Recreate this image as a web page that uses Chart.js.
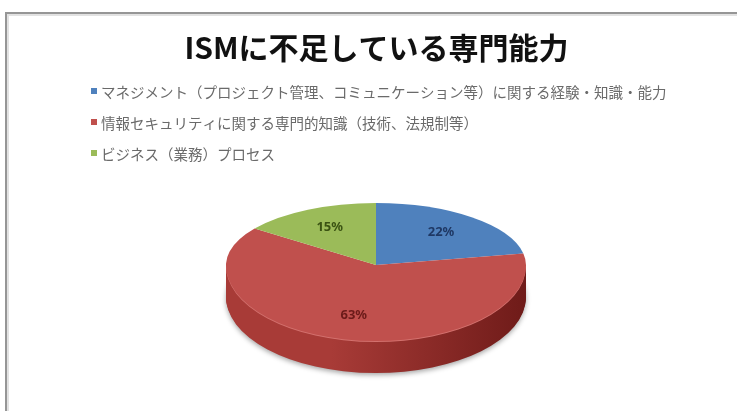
<!DOCTYPE html>
<html>
<head>
<meta charset="utf-8">
<script src="https://cdn.jsdelivr.net/npm/chart.js@4"></script>
<style>
  html, body { margin: 0; padding: 0; background: #fff; }
  #ism { display: block; }
</style>
</head>
<body>
<canvas id="ism" width="737" height="411"></canvas>
<script>
const titleText = 'ISMに不足している専門能力';
const categories = [
  'マネジメント（プロジェクト管理、コミュニケーション等）に関する経験・知識・能力',
  '情報セキュリティに関する専門的知識（技術、法規制等）',
  'ビジネス（業務）プロセス'
];
const shares = [22, 63, 15];
const sliceColors = ['#4F81BD', '#C0504D', '#9BBB59'];
const rimColors = ['#7CA0CE', '#D3716E', '#B5CE83'];
const sideLight = ['#3F6BA0', '#A83B37', '#7F9B45'];
const sideDark = ['#2A4A72', '#6F1B19', '#556A2C'];
const valueColors = ['#1F3864', '#6B1B19', '#3B5313'];

// white card with the grey frame along the top and left
const framePlugin = {
  id: 'frame',
  beforeDraw(chart) {
    const ctx = chart.ctx;
    ctx.save();
    ctx.fillStyle = '#fff';
    ctx.fillRect(0, 0, chart.width, chart.height);
    ctx.strokeStyle = '#e2e2e2';
    ctx.lineWidth = 2;
    ctx.beginPath();
    ctx.moveTo(8, chart.height);
    ctx.lineTo(8, 15);
    ctx.lineTo(chart.width, 15);
    ctx.stroke();
    ctx.strokeStyle = '#969696';
    ctx.lineWidth = 2;
    ctx.beginPath();
    ctx.moveTo(6, chart.height);
    ctx.lineTo(6, 13);
    ctx.lineTo(chart.width, 13);
    ctx.stroke();
    ctx.restore();
  }
};

// one legend entry per row, left aligned
const rowLegend = {
  id: 'rowLegend',
  afterDraw(chart, args, opts) {
    const ctx = chart.ctx;
    ctx.save();
    ctx.font = opts.font;
    ctx.textBaseline = 'middle';
    chart.data.labels.forEach((label, i) => {
      const y = opts.top + i * opts.rowGap;
      ctx.fillStyle = chart.data.datasets[0].backgroundColor[i];
      ctx.fillRect(opts.left, y - 3, 6, 6);
      ctx.fillStyle = opts.color;
      ctx.fillText(label, opts.left + 10, y + 1);
    });
    ctx.restore();
  }
};

// draws the pie as a tilted disc with a front wall
const tiltedPie = {
  id: 'tiltedPie',
  beforeDatasetsDraw(chart, args, o) {
    const ctx = chart.ctx;
    const arcs = chart.getDatasetMeta(0).data;
    const ox = arcs[0].x, oy = arcs[0].y, r = arcs[0].outerRadius;

    const place = (dy, ry) => {
      ctx.translate(o.cx, o.cy + dy);
      ctx.scale(o.rx / r, ry / r);
      ctx.translate(-ox, -oy);
    };
    const paint = (arc, fill) => {
      const saved = arc.options;
      arc.options = Object.assign({}, saved, { backgroundColor: fill, borderWidth: 0 });
      arc.draw(ctx);
      arc.options = saved;
    };
    const clipHalf = (front) => {
      ctx.beginPath();
      if (front) ctx.rect(0, o.cy, chart.width, chart.height);
      else ctx.rect(0, 0, chart.width, o.cy);
      ctx.clip();
    };

    // wall
    for (let d = o.depth; d >= 1; d--) {
      ctx.save();
      clipHalf(true);
      place(d, o.ryFront);
      if (d === o.depth) {
        ctx.shadowColor = 'rgba(0,0,0,0.35)';
        ctx.shadowBlur = 5;
        ctx.shadowOffsetY = 2;
      }
      arcs.forEach((arc, i) => {
        let fill;
        if (d === 1) {
          fill = rimColors[i];
        } else {
          fill = ctx.createLinearGradient(ox - r, 0, ox + r, 0);
          fill.addColorStop(0, sideLight[i]);
          fill.addColorStop(0.35, sideLight[i]);
          fill.addColorStop(1, sideDark[i]);
        }
        paint(arc, fill);
      });
      ctx.restore();
    }

    // top face: back half flatter than the front half
    [false, true].forEach(front => {
      ctx.save();
      clipHalf(front);
      place(0, front ? o.ryFront : o.ryBack);
      arcs.forEach((arc, i) => paint(arc, sliceColors[i]));
      ctx.restore();
    });
    return false;
  },
  // percentages on the top face (datasets draw is cancelled above, so use afterDraw)
  afterDraw(chart, args, o) {
    const ctx = chart.ctx;
    const arcs = chart.getDatasetMeta(0).data;
    ctx.save();
    ctx.font = o.font;
    ctx.textAlign = 'center';
    ctx.textBaseline = 'middle';
    arcs.forEach((arc, i) => {
      const mid = (arc.startAngle + arc.endAngle) / 2;
      const dx = Math.cos(mid) * o.labelRadius;
      const dy = Math.sin(mid) * o.labelRadius;
      const x = o.cx + dx * o.rx;
      const y = o.cy + dy * (dy < 0 ? o.ryBack : o.ryFront);
      ctx.fillStyle = valueColors[i];
      ctx.fillText(shares[i] + '%', x, y);
    });
    ctx.restore();
  }
};

new Chart(document.getElementById('ism'), {
  type: 'pie',
  data: {
    labels: categories,
    datasets: [{
      data: shares,
      backgroundColor: sliceColors,
      borderWidth: 0
    }]
  },
  plugins: [framePlugin, rowLegend, tiltedPie],
  options: {
    responsive: false,
    animation: false,
    events: [],
    layout: { padding: { top: 14, left: 16, right: 0, bottom: 20 } },
    plugins: {
      legend: { display: false },
      tooltip: { enabled: false },
      title: {
        display: true,
        text: titleText,
        color: '#111',
        font: { family: '"Noto Sans CJK JP"', size: 30, weight: 'bold' },
        padding: { top: 16, bottom: 10 }
      },
      rowLegend: {
        left: 91,
        top: 91,
        rowGap: 31,
        font: '14.5px "Noto Sans CJK JP"',
        color: '#6a6a6a'
      },
      tiltedPie: {
        cx: 376,
        cy: 265,
        rx: 150,
        ryBack: 62,
        ryFront: 76,
        depth: 32,
        labelRadius: 0.68,
        font: 'bold 13px "Noto Sans"'
      }
    }
  }
});
</script>
</body>
</html>
